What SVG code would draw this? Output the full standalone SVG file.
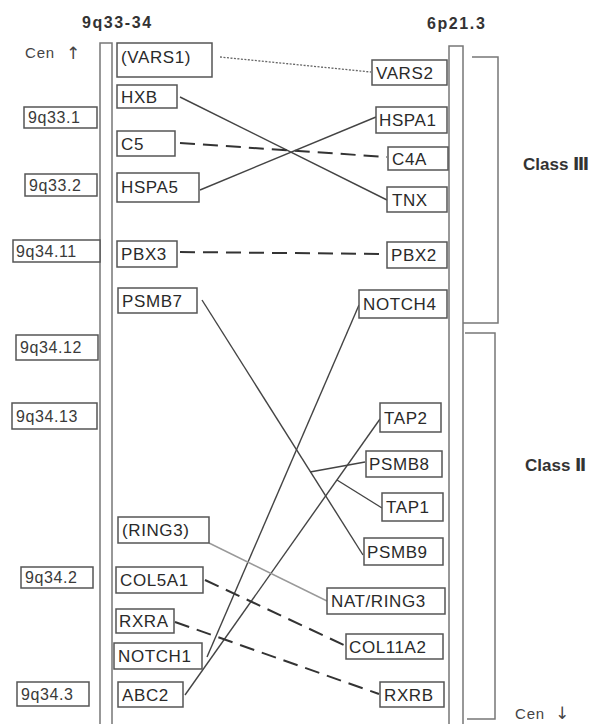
<svg xmlns="http://www.w3.org/2000/svg" width="597" height="724" viewBox="0 0 597 724">
<style>
.bx{fill:#fff;stroke:#555;stroke-width:1.5}
.g{font-family:"Liberation Sans",Arial,sans-serif;font-size:17px;letter-spacing:0.6px;fill:#2a2a2a}
.b{font-family:"Liberation Sans",Arial,sans-serif;font-size:16px;letter-spacing:0.6px;fill:#3a3a3a}
.h{font-family:"Liberation Sans",Arial,sans-serif;font-size:16px;font-weight:bold;letter-spacing:1.6px;fill:#333}
.c{font-family:"Liberation Sans","DejaVu Sans",sans-serif;font-size:17px;font-weight:bold;fill:#333}
.cen{font-family:"Liberation Sans","DejaVu Sans",sans-serif;font-size:15px;letter-spacing:0.8px;fill:#444}
.ar{font-family:"DejaVu Sans",sans-serif;font-size:17px;fill:#444}
.chr{fill:none;stroke:#777;stroke-width:1.5}
.br{fill:none;stroke:#777;stroke-width:1.5}
.s{fill:none;stroke:#444;stroke-width:1.4}
.d{fill:none;stroke:#333;stroke-width:2;stroke-dasharray:15 8}
.dt{fill:none;stroke:#666;stroke-width:1.3;stroke-dasharray:2 1.5}
.gr{fill:none;stroke:#999;stroke-width:1.4}
</style>
<g id="headers">
<text class="h" x="82" y="28">9q33-34</text>
<text class="h" x="427" y="29">6p21.3</text>
<text class="cen" x="25" y="58">Cen</text>
<text class="ar" x="66" y="59">↑</text>
<text class="cen" x="515" y="719">Cen</text>
<text class="ar" x="555" y="719">↓</text>
<text class="c" x="523" y="170">Class Ⅲ</text>
<text class="c" x="525" y="471">Class Ⅱ</text>
</g>
<g id="chromosomes">
<path class="chr" d="M100,724 V43 H112 V724"/>
<path class="chr" d="M449,724 V46 H463 V724"/>
<path class="br" d="M472,57 H498 V323 H463"/>
<path class="br" d="M465,333 H495 V719 H467"/>
</g>
<g id="connectors">
<path class="dt" d="M220,57 L371,72"/>
<path class="s" d="M180,97 L387,200"/>
<path class="d" d="M180,143 L387,157"/>
<path class="s" d="M200,190 L376,117"/>
<path class="d" d="M180,252 L387,254"/>
<path class="s" d="M202,300 L363,555"/>
<path class="s" d="M207,657 L359,305"/>
<path class="s" d="M185,695 L380,419"/>
<path class="s" d="M365,462 L310,472"/>
<path class="s" d="M382,508 L337,480"/>
<path class="gr" d="M209,543 L327,601"/>
<path class="d" d="M205,580 L346,646"/>
<path class="d" d="M175,622 L379,694"/>
</g>
<g id="band-9q33.1"><rect class="bx" x="24" y="107" width="73" height="21"/><text class="b" x="28" y="123">9q33.1</text></g>
<g id="band-9q33.2"><rect class="bx" x="25" y="174" width="72" height="22"/><text class="b" x="29" y="191">9q33.2</text></g>
<g id="band-9q34.11"><rect class="bx" x="13" y="240" width="87" height="22"/><text class="b" x="16" y="257">9q34.11</text></g>
<g id="band-9q34.12"><rect class="bx" x="16" y="335" width="82" height="25"/><text class="b" x="20" y="353">9q34.12</text></g>
<g id="band-9q34.13"><rect class="bx" x="12" y="403" width="85" height="26"/><text class="b" x="16" y="422">9q34.13</text></g>
<g id="band-9q34.2"><rect class="bx" x="21" y="567" width="72" height="21"/><text class="b" x="25" y="583">9q34.2</text></g>
<g id="band-9q34.3"><rect class="bx" x="17" y="682" width="72" height="24"/><text class="b" x="21" y="700">9q34.3</text></g>
<g id="VARS1"><rect class="bx" x="117" y="43" width="95" height="34"/><text class="g" x="121" y="63">(VARS1)</text></g>
<g id="HXB"><rect class="bx" x="117" y="85" width="60" height="23"/><text class="g" x="121" y="103">HXB</text></g>
<g id="C5"><rect class="bx" x="117" y="131" width="58" height="25"/><text class="g" x="121" y="150">C5</text></g>
<g id="HSPA5"><rect class="bx" x="117" y="173" width="82" height="29"/><text class="g" x="121" y="193">HSPA5</text></g>
<g id="PBX3"><rect class="bx" x="117" y="241" width="60" height="26"/><text class="g" x="121" y="260">PBX3</text></g>
<g id="PSMB7"><rect class="bx" x="118" y="288" width="79" height="25"/><text class="g" x="122" y="307">PSMB7</text></g>
<g id="RING3"><rect class="bx" x="118" y="517" width="91" height="26"/><text class="g" x="122" y="536">(RING3)</text></g>
<g id="COL5A1"><rect class="bx" x="116" y="567" width="87" height="26"/><text class="g" x="120" y="586">COL5A1</text></g>
<g id="RXRA"><rect class="bx" x="116" y="609" width="58" height="24"/><text class="g" x="119" y="627">RXRA</text></g>
<g id="NOTCH1"><rect class="bx" x="114" y="643" width="88" height="26"/><text class="g" x="118" y="662">NOTCH1</text></g>
<g id="ABC2"><rect class="bx" x="118" y="682" width="65" height="25"/><text class="g" x="122" y="701">ABC2</text></g>
<g id="VARS2"><rect class="bx" x="372" y="60" width="75" height="25"/><text class="g" x="376" y="79">VARS2</text></g>
<g id="HSPA1"><rect class="bx" x="376" y="107" width="71" height="26"/><text class="g" x="379" y="126">HSPA1</text></g>
<g id="C4A"><rect class="bx" x="388" y="147" width="60" height="23"/><text class="g" x="392" y="165">C4A</text></g>
<g id="TNX"><rect class="bx" x="387" y="187" width="60" height="25"/><text class="g" x="392" y="206">TNX</text></g>
<g id="PBX2"><rect class="bx" x="387" y="242" width="60" height="26"/><text class="g" x="391" y="261">PBX2</text></g>
<g id="NOTCH4"><rect class="bx" x="359" y="290" width="88" height="28"/><text class="g" x="363" y="310">NOTCH4</text></g>
<g id="TAP2"><rect class="bx" x="380" y="403" width="61" height="29"/><text class="g" x="384" y="424">TAP2</text></g>
<g id="PSMB8"><rect class="bx" x="366" y="451" width="76" height="26"/><text class="g" x="369" y="470">PSMB8</text></g>
<g id="TAP1"><rect class="bx" x="382" y="493" width="61" height="28"/><text class="g" x="386" y="513">TAP1</text></g>
<g id="PSMB9"><rect class="bx" x="364" y="538" width="79" height="27"/><text class="g" x="367" y="558">PSMB9</text></g>
<g id="NAT-RING3"><rect class="bx" x="327" y="588" width="118" height="26"/><text class="g" x="331" y="607">NAT/RING3</text></g>
<g id="COL11A2"><rect class="bx" x="346" y="634" width="97" height="25"/><text class="g" x="349" y="653">COL11A2</text></g>
<g id="RXRB"><rect class="bx" x="380" y="682" width="64" height="25"/><text class="g" x="384" y="701">RXRB</text></g>
</svg>
